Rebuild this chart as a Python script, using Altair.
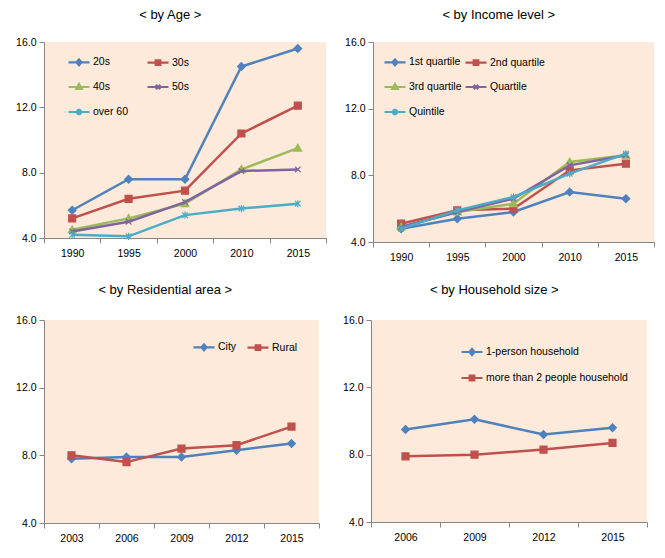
import altair as alt
import pandas as pd

FONT = "Liberation Sans"

age_years = ["1990", "1995", "2000", "2010", "2015"]
age_names = ["20s", "30s", "40s", "50s", "over 60"]
age_20s = [5.7, 7.6, 7.6, 14.5, 15.6]
age_30s = [5.2, 6.4, 6.9, 10.4, 12.1]
age_40s = [4.5, 5.2, 6.1, 8.2, 9.5]
age_50s = [4.4, 5.0, 6.2, 8.1, 8.2]
age_60 = [4.2, 4.1, 5.4, 5.8, 6.1]

inc_years = ["1990", "1995", "2000", "2010", "2015"]
inc_names = ["1st quartile", "2nd quartile", "3rd quartile", "Quartile", "Quintile"]
inc_q1 = [4.8, 5.4, 5.8, 7.0, 6.6]
inc_q2 = [5.1, 5.9, 6.0, 8.3, 8.7]
inc_q3 = [4.9, 5.8, 6.3, 8.8, 9.2]
inc_q4 = [4.9, 5.8, 6.6, 8.6, 9.2]
inc_q5 = [4.8, 5.9, 6.7, 8.1, 9.3]

res_years = ["2003", "2006", "2009", "2012", "2015"]
res_names = ["City", "Rural"]
res_city = [7.8, 7.9, 7.9, 8.3, 8.7]
res_rural = [8.0, 7.6, 8.4, 8.6, 9.7]

hh_years = ["2006", "2009", "2012", "2015"]
hh_names = ["1-person household", "more than 2 people household"]
hh_one = [9.5, 10.1, 9.2, 9.6]
hh_multi = [7.9, 8.0, 8.3, 8.7]

y_ticks = [4, 8, 12, 16]

COLORS = ["#4F81BD", "#C0504D", "#9BBB59", "#8064A2", "#4BACC6"]
BG = "#FDEADA"

MARK = {
    "diamond": "M0,-1L1,0L0,1L-1,0Z",
    "square": "M-0.9,-0.9L0.9,-0.9L0.9,0.9L-0.9,0.9Z",
    "triangle": "M0,-1L1,0.75L-1,0.75Z",
    "cross": "M-0.8,-0.8L0.8,0.8M-0.8,0.8L0.8,-0.8",
    "star": "M-0.8,-0.8L0.8,0.8M-0.8,0.8L0.8,-0.8M0,-1L0,1",
}
LEG = {
    "diamond": "M-1,0L1,0M0,-0.28L0.24,0L0,0.28L-0.24,0Z",
    "square": "M-1,0L1,0M-0.22,-0.22L0.22,-0.22L0.22,0.22L-0.22,0.22Z",
    "triangle": "M-1,0L1,0M0,-0.28L0.26,0.18L-0.26,0.18Z",
    "cross": "M-1,0L1,0M-0.22,-0.22L0.22,0.22M-0.22,0.22L0.22,-0.22",
    "star": "M-1,0L1,0M-0.22,-0.22L0.22,0.22M-0.22,0.22L0.22,-0.22M0,-0.3L0,0.3",
}
ORDER = ["diamond", "square", "triangle", "cross", "star"]

IND = dict(fill="independent", stroke="independent", shape="independent")


def panel(title, years, names, series, width, height, legend_kw, title_offset, y_extent):
    rows = []
    for n, vals in zip(names, series):
        for yr, v in zip(years, vals):
            rows.append({"year": yr, "series": n, "value": v})
    df = pd.DataFrame(rows)
    cols = COLORS[: len(names)]
    shapes = ORDER[: len(names)]

    x = alt.X(
        "year:N",
        scale=alt.Scale(type="band", domain=years, paddingInner=0, paddingOuter=0),
        axis=alt.Axis(
            title=None, tickBand="extent", labelAngle=0, tickSize=5,
            labelPadding=5, labelFont=FONT, labelFontSize=10.5, labelColor="#000",
            domainColor="#868686", tickColor="#868686",
        ),
    )
    y = alt.Y(
        "value:Q",
        scale=alt.Scale(domain=[4, 16], nice=False, zero=False),
        axis=alt.Axis(
            title=None, values=y_ticks, format=".1f", grid=False, tickSize=5,
            labelPadding=3, labelFont=FONT, labelFontSize=10.5, labelColor="#000",
            domainColor="#868686", tickColor="#868686",
            minExtent=y_extent, maxExtent=y_extent,
        ),
    )
    base = alt.Chart(df)
    layers = []
    for n, c, s in zip(names, cols, shapes):
        filled = s in ("diamond", "square", "triangle")
        sub = base.transform_filter(alt.datum.series == n)
        layers.append(sub.mark_line(strokeWidth=2.5, color=c).encode(x=x, y=y))
        layers.append(
            sub.mark_point(
                shape=MARK[s], size=(60 if filled else 50), filled=True,
                fill=c, stroke=c, strokeWidth=1.2, opacity=1,
            ).encode(x=x, y=y)
        )
    kw = {"direction": "horizontal"}
    kw.update(legend_kw)
    leg = alt.Legend(
        title=None, orient="none", labelFont=FONT,
        labelFontSize=10.5, labelColor="#000", symbolSize=441, symbolStrokeWidth=2.2,
        labelOffset=2, padding=0, symbolOpacity=1, **kw,
    )
    legend_layer = (
        base.transform_filter("false")
        .mark_point(filled=True, size=441, strokeWidth=2.2)
        .encode(
            fill=alt.Fill("series:N", scale=alt.Scale(domain=names, range=cols), legend=leg),
            stroke=alt.Stroke("series:N", scale=alt.Scale(domain=names, range=cols), legend=leg),
            shape=alt.Shape("series:N", scale=alt.Scale(domain=names, range=[LEG[s] for s in shapes]), legend=leg),
        )
    )
    layers.append(legend_layer)
    return alt.layer(*layers).properties(
        width=width, height=height,
        view=alt.ViewBackground(fill=BG, stroke=None),
        title=alt.TitleParams(
            title, anchor="middle", frame="bounds", font=FONT, fontSize=13,
            fontWeight="normal", color="#000", offset=title_offset,
        ),
    )


p1 = panel("< by Age >", age_years, age_names, [age_20s, age_30s, age_40s, age_50s, age_60],
           282, 196, dict(legendX=23, legendY=8, columns=2, columnPadding=14, rowPadding=5, gridAlign="all"),
           15, 30)
p2 = panel("< by Income level >", inc_years, inc_names, [inc_q1, inc_q2, inc_q3, inc_q4, inc_q5],
           281, 200, dict(legendX=10, legendY=8, columns=2, columnPadding=-4, rowPadding=5, gridAlign="all"),
           15, 30)
p3 = panel("< by Residential area >", res_years, res_names, [res_city, res_rural],
           275, 203, dict(legendX=148, legendY=15, columns=2, columnPadding=6, rowPadding=3),
           18, 33)
p4 = panel("< by Household size >", hh_years, hh_names, [hh_one, hh_multi],
           276, 202, dict(legendX=89, legendY=20, columns=1, rowPadding=6, direction="vertical"),
           18, 30)

chart = (
    alt.vconcat(
        alt.hconcat(p1, p2, spacing=16).resolve_scale(**IND),
        alt.hconcat(p3, p4, spacing=21).resolve_scale(**IND),
        spacing=21,
    )
    .resolve_scale(**IND)
    .properties(padding={"left": 3, "top": 1, "right": 0, "bottom": 0})
    .configure_view(fill=BG, stroke=None)
)

chart.save("out.html", embed_options={"renderer": "svg", "actions": False})
